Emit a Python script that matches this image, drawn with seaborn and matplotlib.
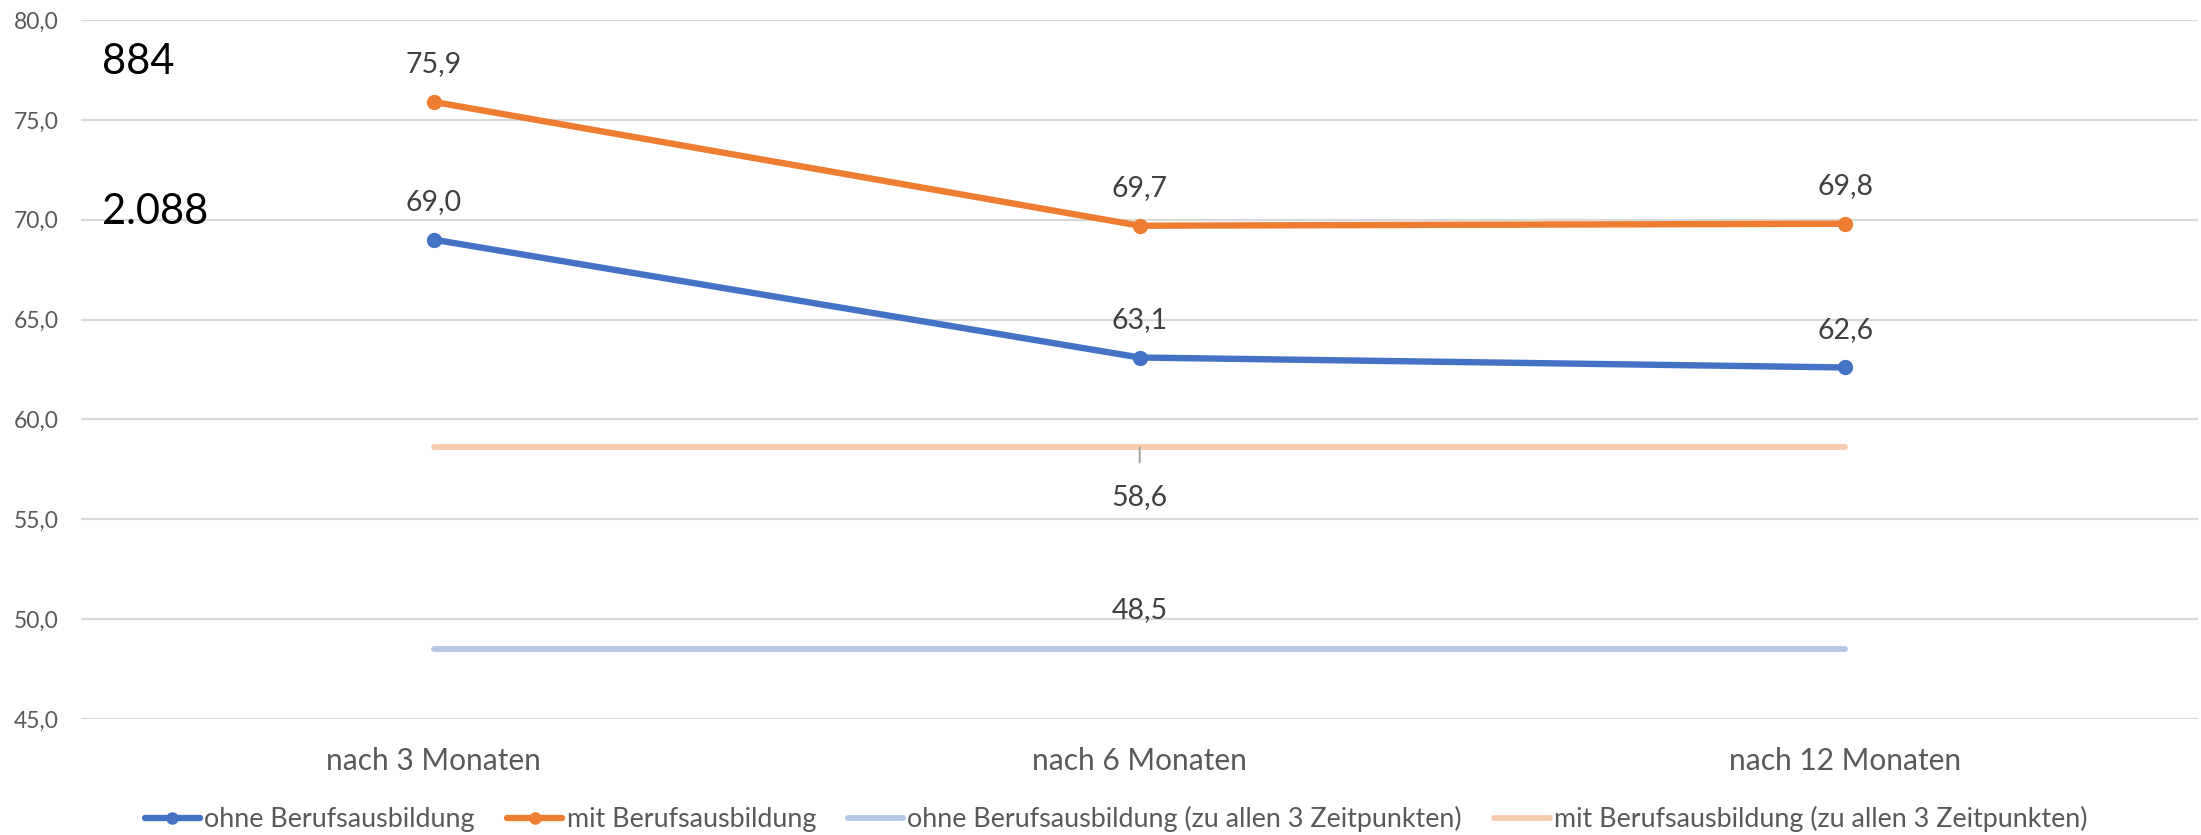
import matplotlib
matplotlib.use("Agg")
import matplotlib.pyplot as plt
import seaborn as sns
import numpy as np
from matplotlib.lines import Line2D

categories = ["nach 3 Monaten", "nach 6 Monaten", "nach 12 Monaten"]
ohne = [69.0, 63.1, 62.6]
mit = [75.9, 69.7, 69.8]
ohne_all = [48.5, 48.5, 48.5]
mit_all = [58.6, 58.6, 58.6]
series_names = ["ohne Berufsausbildung", "mit Berufsausbildung",
                "ohne Berufsausbildung (zu allen 3 Zeitpunkten)",
                "mit Berufsausbildung (zu allen 3 Zeitpunkten)"]
n_labels = ["884", "2.088"]
n_label_y = [77.9, 70.4]
yticks = [45, 50, 55, 60, 65, 70, 75, 80]

sns.set_theme(style="white")
plt.rcParams['font.family'] = ['Lato', 'DejaVu Sans']

C_BLUE = "#4472C4"
C_ORANGE = "#ED7D31"
C_LBLUE = "#B4C7E7"
C_LORANGE = "#F8CBAD"
TXT = "#404040"
AX = "#595959"

fig = plt.figure(figsize=(22.01, 8.35), dpi=100)
ax = fig.add_axes([0.0368, 0.139, 0.962, 0.837])

x = np.arange(len(categories))

sns.lineplot(x=x, y=ohne_all, ax=ax, color=C_LBLUE, linewidth=4.2, sort=False,
             solid_capstyle="round")
sns.lineplot(x=x, y=mit_all, ax=ax, color=C_LORANGE, linewidth=4.2, sort=False,
             solid_capstyle="round")
sns.lineplot(x=x, y=ohne, ax=ax, color=C_BLUE, linewidth=4.6, sort=False,
             marker="o", markersize=11, markeredgewidth=0)
sns.lineplot(x=x, y=mit, ax=ax, color=C_ORANGE, linewidth=4.6, sort=False,
             marker="o", markersize=11, markeredgewidth=0)

ax.set_xlim(-0.5, len(categories) - 0.5)
ax.set_ylim(45, 80)
ax.set_yticks(yticks)
ax.set_yticklabels([f"{v:.1f}".replace(".", ",") for v in yticks],
                   fontsize=16.5, color=AX)
ax.set_xticks(x)
ax.set_xticklabels(categories, fontsize=21.5, color=AX)
ax.tick_params(axis="x", length=0, pad=20)
ax.tick_params(axis="y", length=0, pad=16)
ax.grid(axis="y", color="#D9D9D9", linewidth=1.6)
ax.set_axisbelow(True)
for s in ax.spines.values():
    s.set_visible(False)

def fmt(v):
    return f"{v:.1f}".replace(".", ",")

for xi, v in zip(x, ohne):
    ax.annotate(fmt(v), (xi, v), xytext=(0, 27), textcoords="offset points",
                ha="center", va="center", fontsize=20.5, color=TXT)
for xi, v in zip(x, mit):
    ax.annotate(fmt(v), (xi, v), xytext=(0, 27), textcoords="offset points",
                ha="center", va="center", fontsize=20.5, color=TXT)
# middle labels for the constant lines
ax.annotate(fmt(ohne_all[1]), (x[1], ohne_all[1]), xytext=(0, 28), textcoords="offset points",
            ha="center", va="center", fontsize=20.5, color=TXT)
ax.annotate(fmt(mit_all[1]), (x[1], mit_all[1]), xytext=(0, -36), textcoords="offset points",
            ha="center", va="center", fontsize=20.5, color=TXT)
# small leader line
ax.annotate("", xy=(x[1], mit_all[1]), xytext=(x[1], mit_all[1] - 0.75),
            arrowprops=dict(arrowstyle="-", color="#A6A6A6", lw=1.5, shrinkA=0, shrinkB=0))

for lab, yv in zip(n_labels, n_label_y):
    ax.text(-0.470, yv, lab, ha="left", va="center", fontsize=30, color="black")

handles = [
    Line2D([], [], color=C_BLUE, lw=4.6, marker="o", markersize=9, markeredgewidth=0),
    Line2D([], [], color=C_ORANGE, lw=4.6, marker="o", markersize=9, markeredgewidth=0),
    Line2D([], [], color=C_LBLUE, lw=4.2, solid_capstyle="round"),
    Line2D([], [], color=C_LORANGE, lw=4.2, solid_capstyle="round"),
]
leg = fig.legend(handles, series_names, loc="center", bbox_to_anchor=(0.507, 0.019),
                 ncol=4, frameon=False, fontsize=19.4, handlelength=2.07,
                 handletextpad=0.15, columnspacing=1.18)
for t in leg.get_texts():
    t.set_color(AX)

fig.savefig("out.png", dpi=100)
